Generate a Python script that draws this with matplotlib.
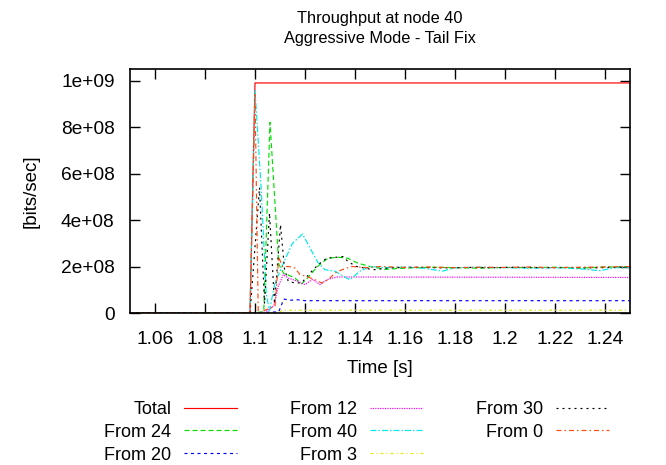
import matplotlib
matplotlib.use("Agg")
import matplotlib.pyplot as plt
from matplotlib.ticker import FixedLocator, FixedFormatter

plt.rcParams['font.family'] = ['Liberation Sans', 'DejaVu Sans']
plt.rcParams['lines.scale_dashes'] = False

SCALE = 1e8  # values below are in units of 1e8 bits/sec

t_total = [1.05, 1.098, 1.1, 1.25]
v_total = [0, 0, 9.9, 9.9]

t_from24 = [1.05, 1.098, 1.1035, 1.106, 1.1095, 1.1115, 1.113, 1.116, 1.1187, 1.121, 1.125,
            1.129, 1.133, 1.137, 1.141, 1.146, 1.152, 1.16, 1.17, 1.18, 1.19, 1.2, 1.21,
            1.22, 1.23, 1.24, 1.25]
v_from24 = [0, 0, 0.05, 8.2, 2.1, 1.7, 1.65, 1.5, 1.25, 1.5, 2.0,
            2.35, 2.4, 2.36, 2.15, 2.0, 1.88, 1.93, 1.97, 1.95, 1.93, 1.96, 1.95,
            1.97, 1.93, 1.98, 1.98]

t_from20 = [1.05, 1.098, 1.1095, 1.1115, 1.114, 1.117, 1.12, 1.25]
v_from20 = [0, 0, 0.05, 0.6, 0.55, 0.57, 0.53, 0.53]

t_from12 = [1.05, 1.1035, 1.1075, 1.1093, 1.1113, 1.1133, 1.1173, 1.12, 1.123, 1.126,
            1.1287, 1.1327, 1.25]
v_from12 = [0, 0, 0.3, 1.14, 1.65, 1.5, 1.36, 1.22, 1.45, 1.22,
            1.43, 1.55, 1.53]

t_from40 = [1.05, 1.098, 1.1, 1.1025, 1.1045, 1.1058, 1.108, 1.112, 1.115, 1.119, 1.122,
            1.125, 1.128, 1.132, 1.1355, 1.138, 1.142, 1.146, 1.152, 1.16, 1.168, 1.175,
            1.18, 1.19, 1.2, 1.21, 1.22, 1.23, 1.238, 1.244, 1.25]
v_from40 = [0, 0, 9.6, 5.3, 0.8, 0.1, 1.3, 2.3, 3.0, 3.4, 2.8,
            2.2, 1.86, 1.8, 1.57, 1.43, 1.8, 2.0, 1.95, 1.98, 1.92, 1.8,
            1.95, 1.97, 1.95, 1.93, 1.95, 1.9, 1.82, 1.95, 1.96]

t_from3 = [1.05, 1.1095, 1.111, 1.25]
v_from3 = [0, 0, 0.12, 0.12]

t_from30 = [1.05, 1.098, 1.1018, 1.1038, 1.1058, 1.1078, 1.1102, 1.1118, 1.1133, 1.116,
            1.1187, 1.122, 1.1253, 1.1287, 1.1353, 1.1373, 1.1407, 1.1473, 1.155, 1.165,
            1.175, 1.185, 1.195, 1.205, 1.215, 1.225, 1.235, 1.245, 1.25]
v_from30 = [0, 0, 5.4, 0.4, 4.3, 0.4, 3.8, 1.9, 1.36, 1.29,
            1.3, 1.72, 2.08, 2.36, 2.43, 2.2, 2.0, 1.86, 1.95, 1.97,
            1.94, 1.96, 1.95, 1.97, 1.95, 1.96, 1.94, 1.97, 1.99]

t_from0 = [1.05, 1.098, 1.1, 1.1013, 1.108, 1.1095, 1.111, 1.1135, 1.116, 1.118, 1.1207,
           1.124, 1.1267, 1.1293, 1.132, 1.1347, 1.1387, 1.145, 1.15, 1.16, 1.17, 1.18,
           1.19, 1.2, 1.21, 1.22, 1.23, 1.24, 1.25]
v_from0 = [0, 0, 9.4, 0, 0.3, 2.4, 2.0, 2.0, 1.93, 1.65, 1.57,
           1.43, 1.29, 1.43, 1.72, 1.86, 2.0, 1.95, 2.0, 1.96, 1.98, 1.95,
           1.97, 1.96, 1.98, 1.95, 1.97, 1.98, 2.0]

series_labels = ["Total", "From 24", "From 20", "From 12", "From 40", "From 3", "From 30", "From 0"]

x_ticks = [1.06, 1.08, 1.1, 1.12, 1.14, 1.16, 1.18, 1.2, 1.22, 1.24]
x_tick_labels = ["1.06", "1.08", "1.1", "1.12", "1.14", "1.16", "1.18", "1.2", "1.22", "1.24"]
y_ticks = [0, 2e8, 4e8, 6e8, 8e8, 1e9]
y_tick_labels = ["0", "2e+08", "4e+08", "6e+08", "8e+08", "1e+09"]

px = 0.72  # points per pixel at 100 dpi
styles = [
    dict(color="#ff0000", linestyle="-"),
    dict(color="#00e000", linestyle=(0, (5 * px, 3 * px))),
    dict(color="#0000ff", linestyle=(0, (3 * px, 3.5 * px))),
    dict(color="#ff00ff", linestyle=(0, (1.2 * px, 1.2 * px))),
    dict(color="#00e8e8", linestyle=(0, (6 * px, 2 * px, 1.5 * px, 2 * px))),
    dict(color="#e8e800", linestyle=(0, (3 * px, 3 * px, 1 * px, 3 * px))),
    dict(color="#000000", linestyle=(0, (2 * px, 4 * px))),
    dict(color="#ff4a10", linestyle=(0, (5 * px, 3 * px, 1.5 * px, 3 * px))),
]

series = [(t_total, v_total), (t_from24, v_from24), (t_from20, v_from20),
          (t_from12, v_from12), (t_from40, v_from40), (t_from3, v_from3),
          (t_from30, v_from30), (t_from0, v_from0)]

fig = plt.figure(figsize=(6.66, 4.65), dpi=100)
ax = fig.add_axes([130 / 666, 1 - 313 / 465, 500 / 666, 244 / 465])

handles = []
for (t, v), lab, st in zip(series, series_labels, styles):
    ln, = ax.plot(t, [val * SCALE for val in v], linewidth=0.85, label=lab, **st)
    handles.append(ln)

ax.set_xlim(1.05, 1.25)
ax.set_ylim(0, 1.05e9)
ax.xaxis.set_major_locator(FixedLocator(x_ticks))
ax.xaxis.set_major_formatter(FixedFormatter(x_tick_labels))
ax.yaxis.set_major_locator(FixedLocator(y_ticks))
ax.yaxis.set_major_formatter(FixedFormatter(y_tick_labels))
ax.tick_params(direction="in", length=7, width=1, top=True, right=True, labelsize=13.8)
ax.tick_params(axis="x", pad=13)
ax.tick_params(axis="y", pad=11)
for s in ax.spines.values():
    s.set_linewidth(1.2)

ax.set_xlabel("Time [s]", fontsize=13.5, labelpad=8.5)
ax.set_ylabel("[bits/sec]", fontsize=13.5, labelpad=15.5)
ax.set_title("Throughput at node 40\nAggressive Mode - Tail Fix", fontsize=11.8,
             pad=19, linespacing=1.42)

leg = fig.legend(handles=handles, labels=series_labels, ncol=3, markerfirst=False,
                 loc="upper left", bbox_to_anchor=(104 / 666, 1 - 401 / 465),
                 frameon=False, fontsize=13, handlelength=2.95, handletextpad=0.72,
                 columnspacing=2.9, labelspacing=0.32, borderpad=0, borderaxespad=0)

fig.savefig("out.png", dpi=100)
